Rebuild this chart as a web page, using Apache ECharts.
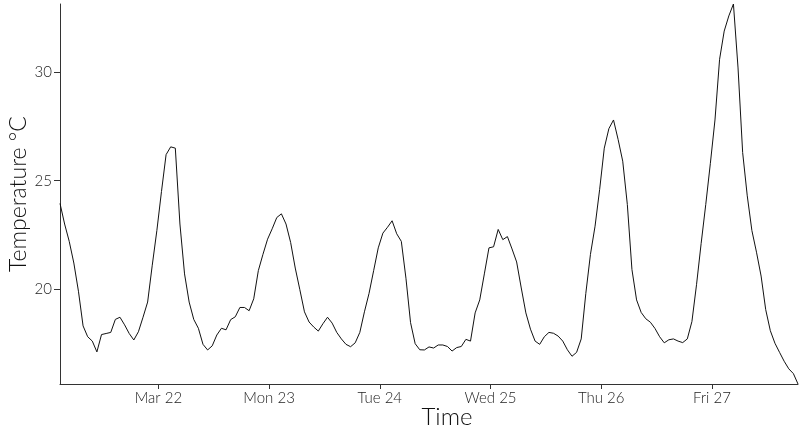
<!DOCTYPE html>
<html>
<head>
<meta charset="utf-8">
<script src="https://cdn.jsdelivr.net/npm/echarts@6/dist/echarts.min.js"></script>
<style>
html,body{margin:0;padding:0;background:#fff;}
#chart{width:800px;height:433px;}
</style>
</head>
<body>
<div id="chart"></div>
<script>
// Hourly temperature readings (°C), starting 2020-03-21 02:40 local time
const startTime = [2020, 2, 21, 2, 40];
const temps = [
  23.95, 23.0, 22.2, 21.2, 19.9, 18.3, 17.8, 17.6, 17.1, 17.9,
  17.95, 18.0, 18.6, 18.7, 18.35, 17.95, 17.65, 18.03, 18.7, 19.4,
  21.1, 22.7, 24.5, 26.2, 26.56, 26.5, 23.0, 20.7, 19.4, 18.6,
  18.19, 17.45, 17.19, 17.38, 17.88, 18.19, 18.12, 18.59, 18.72, 19.15,
  19.15, 19.0, 19.55, 20.85, 21.6, 22.3, 22.78, 23.3, 23.47, 23.0,
  22.15, 20.97, 19.97, 18.95, 18.48, 18.25, 18.06, 18.4, 18.7, 18.43,
  18.0, 17.7, 17.45, 17.34, 17.52, 18.0, 18.95, 19.8, 20.85, 21.9,
  22.58, 22.85, 23.15, 22.55, 22.2, 20.5, 18.45, 17.48, 17.2, 17.19,
  17.33, 17.28, 17.42, 17.42, 17.35, 17.14, 17.3, 17.35, 17.68, 17.6,
  18.9, 19.5, 20.7, 21.9, 21.95, 22.75, 22.28, 22.42, 21.85, 21.25,
  20.05, 18.9, 18.15, 17.6, 17.45, 17.8, 18.0, 17.96, 17.83, 17.6,
  17.2, 16.9, 17.08, 17.7, 19.8, 21.6, 22.9, 24.6, 26.5, 27.4,
  27.8, 26.9, 25.9, 23.9, 20.9, 19.5, 18.92, 18.63, 18.47, 18.18,
  17.8, 17.52, 17.66, 17.7, 17.6, 17.53, 17.7, 18.5, 20.2, 22.1,
  23.9, 25.8, 27.8, 30.6, 31.9, 32.6, 33.15, 30.2, 26.3, 24.3,
  22.7, 21.7, 20.6, 19.05, 18.08, 17.5, 17.08, 16.67, 16.32, 16.1,
  15.62
];
// X tick positions (midnights) and their labels
const tickDays = [22, 23, 24, 25, 26, 27];
const tickLabels = ['Mar 22', 'Mon 23', 'Tue 24', 'Wed 25', 'Thu 26', 'Fri 27'];
// Y tick values
const yTicks = [20, 25, 30];

const t0 = new Date(startTime[0], startTime[1], startTime[2], startTime[3], startTime[4]).getTime();
const seriesData = temps.map((v, i) => [t0 + i * 3600000, v]);
const tickValues = tickDays.map(d => new Date(2020, 2, d).getTime());

const FONT = 'Lato';
const chart = echarts.init(document.getElementById('chart'), null, {renderer: 'canvas'});
chart.setOption({
  animation: false,
  backgroundColor: '#fff',
  grid: {left: 60, right: 2, top: 4, bottom: 49, containLabel: false, outerBoundsMode: 'none'},
  xAxis: {
    type: 'value',
    scale: true,
    min: seriesData[0][0],
    max: seriesData[seriesData.length - 1][0],
    name: 'Time',
    nameLocation: 'middle',
    nameGap: 21,
    nameMoveOverlap: false,
    nameTextStyle: {fontFamily: FONT, fontWeight: 300, fontSize: 24, color: '#111', padding: [0, 0, 0, 36]},
    axisLine: {show: true, lineStyle: {color: '#333', width: 1}},
    axisTick: {show: true, length: 5, lineStyle: {color: '#333'}, customValues: tickValues},
    axisLabel: {
      customValues: tickValues,
      margin: 7,
      fontFamily: FONT, fontWeight: 300, fontSize: 15, color: '#222',
      formatter: function (v) {
        const i = tickValues.indexOf(v);
        return i >= 0 ? tickLabels[i] : '';
      }
    },
    splitLine: {show: false}
  },
  yAxis: {
    type: 'value',
    min: 'dataMin',
    max: 'dataMax',
    name: 'Temperature °C',
    nameLocation: 'middle',
    nameGap: 30,
    nameMoveOverlap: false,
    nameTextStyle: {fontFamily: FONT, fontWeight: 300, fontSize: 23, color: '#111'},
    axisLine: {show: true, lineStyle: {color: '#333', width: 1}},
    axisTick: {show: true, length: 6, lineStyle: {color: '#333'}, customValues: yTicks},
    axisLabel: {
      customValues: yTicks,
      margin: 8,
      fontFamily: FONT, fontWeight: 300, fontSize: 15, color: '#222'
    },
    splitLine: {show: false}
  },
  series: [{
    type: 'line',
    data: seriesData,
    showSymbol: false,
    symbol: 'none',
    lineStyle: {color: '#111', width: 1},
    silent: true
  }]
});
</script>
</body>
</html>
